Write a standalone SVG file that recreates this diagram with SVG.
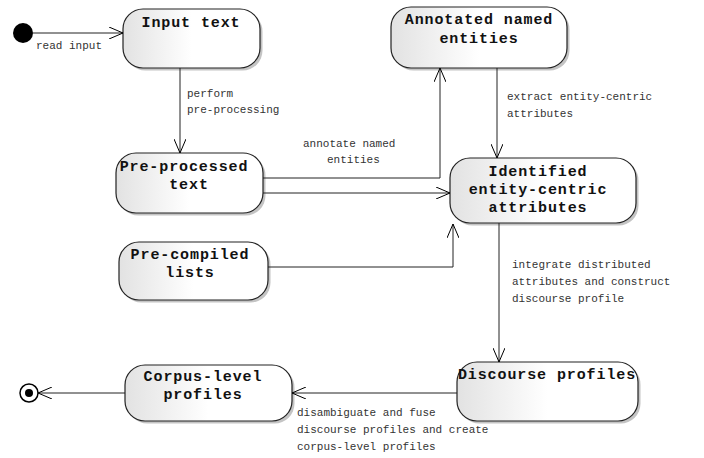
<svg xmlns="http://www.w3.org/2000/svg" width="704" height="458" viewBox="0 0 704 458">
<defs>
<linearGradient id="g" x1="0" y1="0" x2="1" y2="0">
<stop offset="0" stop-color="#e2e2e2"/>
<stop offset="0.5" stop-color="#ffffff"/>
<stop offset="1" stop-color="#ffffff"/>
</linearGradient>
<marker id="arr" viewBox="0 0 14 12" refX="14" refY="6" markerWidth="14" markerHeight="12" markerUnits="userSpaceOnUse" orient="auto">
<path d="M0,0 L14,6 L0,12" fill="none" stroke="#000" stroke-width="1"/>
</marker>
</defs>
<style>
.box{fill:url(#g);stroke:#222;stroke-width:1.2}
.sh{fill:#c4c4c4}
.t{font-family:"Liberation Mono","Courier New",monospace;font-size:15px;letter-spacing:0.9px;font-weight:bold;fill:#111;text-anchor:middle}
.l{font-family:"Liberation Mono","Courier New",monospace;font-size:11px;fill:#333}
.c{fill:none;stroke:#222;stroke-width:1}
</style>
<rect width="704" height="458" fill="#fff"/>

<g id="start"><circle cx="23" cy="33" r="10" fill="#000"/></g>

<g id="input-text">
<rect class="sh" x="125.5" y="11.5" width="137" height="59" rx="20"/>
<rect class="box" x="123" y="9" width="137" height="59" rx="20"/>
<text class="t" x="191" y="27">Input text</text>
</g>

<g id="annotated">
<rect class="sh" x="393.5" y="9.5" width="176" height="61" rx="20"/>
<rect class="box" x="391" y="7" width="176" height="61" rx="20"/>
<text class="t" x="479" y="24">Annotated named</text>
<text class="t" x="479" y="43">entities</text>
</g>

<g id="preprocessed">
<rect class="sh" x="118.5" y="155.5" width="147" height="60" rx="20"/>
<rect class="box" x="116" y="153" width="147" height="60" rx="20"/>
<text class="t" x="184" y="171">Pre-processed</text>
<text class="t" x="189" y="189">text</text>
</g>

<g id="identified">
<rect class="sh" x="452.5" y="160.5" width="186" height="65" rx="20"/>
<rect class="box" x="450" y="158" width="186" height="65" rx="20"/>
<text class="t" x="538" y="176">Identified</text>
<text class="t" x="538" y="194">entity-centric</text>
<text class="t" x="538" y="212">attributes</text>
</g>

<g id="precompiled">
<rect class="sh" x="121.5" y="244.5" width="149" height="58" rx="20"/>
<rect class="box" x="119" y="242" width="149" height="58" rx="20"/>
<text class="t" x="190" y="259">Pre-compiled</text>
<text class="t" x="190" y="277">lists</text>
</g>

<g id="discourse">
<rect class="sh" x="459.5" y="364.5" width="181" height="59" rx="20"/>
<rect class="box" x="457" y="362" width="181" height="59" rx="20"/>
<text class="t" x="547" y="379">Discourse profiles</text>
</g>

<g id="corpus">
<rect class="sh" x="127.5" y="367.5" width="167" height="56" rx="20"/>
<rect class="box" x="125" y="365" width="167" height="56" rx="20"/>
<text class="t" x="203" y="381">Corpus-level</text>
<text class="t" x="203" y="399">profiles</text>
</g>

<g id="end">
<circle cx="29" cy="393" r="9" fill="#fff" stroke="#000" stroke-width="1.5"/>
<circle cx="29" cy="393" r="4" fill="#000"/>
</g>

<g id="connectors">
<path class="c" d="M33,33 H123" marker-end="url(#arr)"/>
<path class="c" d="M180,68 V153" marker-end="url(#arr)"/>
<path class="c" d="M263,178 H440 V68" marker-end="url(#arr)"/>
<path class="c" d="M263,193 H450" marker-end="url(#arr)"/>
<path class="c" d="M497,68 V158" marker-end="url(#arr)"/>
<path class="c" d="M268,267 H453 V224" marker-end="url(#arr)"/>
<path class="c" d="M499,223 V362" marker-end="url(#arr)"/>
<path class="c" d="M457,393 H292" marker-end="url(#arr)"/>
<path class="c" d="M125,393 H38" marker-end="url(#arr)"/>
</g>

<g id="labels">
<text class="l" x="36" y="49">read input</text>
<text class="l" x="187" y="97">perform</text>
<text class="l" x="187" y="113">pre-processing</text>
<text class="l" x="303" y="147">annotate named</text>
<text class="l" x="327" y="163">entities</text>
<text class="l" x="507" y="100">extract entity-centric</text>
<text class="l" x="507" y="117">attributes</text>
<text class="l" x="512" y="268">integrate distributed</text>
<text class="l" x="512" y="285">attributes and construct</text>
<text class="l" x="512" y="302">discourse profile</text>
<text class="l" x="297" y="416">disambiguate and fuse</text>
<text class="l" x="297" y="433">discourse profiles and create</text>
<text class="l" x="297" y="450">corpus-level profiles</text>
</g>
</svg>
